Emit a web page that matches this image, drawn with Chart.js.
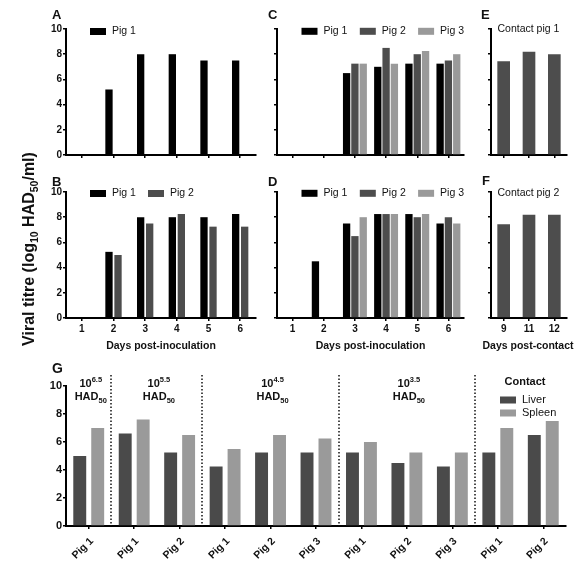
<!DOCTYPE html>
<html>
<head>
<meta charset="utf-8">
<script src="https://cdn.jsdelivr.net/npm/chart.js@4.4.1/dist/chart.umd.min.js"></script>
<style>
body { margin: 0; background: #fff; }
#fig { position: relative; width: 581px; height: 565px; overflow: hidden; font-family: "Liberation Sans", Arial, sans-serif; color: #111; }
#fig canvas { position: absolute; }
.letter { position: absolute; font-weight: bold; font-size: 13px; line-height: 1; }
#ytitle { position: absolute; left: 30px; top: 249px; transform: translate(-50%, -50%) rotate(-90deg); white-space: nowrap; font-weight: bold; font-size: 16px; line-height: 1; }
#ytitle sub { font-size: 10.5px; }
</style>
</head>
<body>
<div id="fig">
  <canvas id="cA"></canvas>
  <canvas id="cB"></canvas>
  <canvas id="cC"></canvas>
  <canvas id="cD"></canvas>
  <canvas id="cE"></canvas>
  <canvas id="cF"></canvas>
  <canvas id="cG"></canvas>
  <div class="letter" style="left:52px;top:8px">A</div>
  <div class="letter" style="left:268px;top:8px">C</div>
  <div class="letter" style="left:481px;top:8px">E</div>
  <div class="letter" style="left:52px;top:175px">B</div>
  <div class="letter" style="left:268px;top:175px">D</div>
  <div class="letter" style="left:482px;top:174px">F</div>
  <div class="letter" style="left:52px;top:361px;font-size:14px">G</div>
  <div id="ytitle">Viral titre (log<sub>10</sub> HAD<sub>50</sub>/ml)</div>
</div>
<script>
// categories
var days = ["1", "2", "3", "4", "5", "6"];
var contactDays = ["9", "11", "12"];
var tissuePigs = ["Pig 1", "Pig 1", "Pig 2", "Pig 1", "Pig 2", "Pig 3", "Pig 1", "Pig 2", "Pig 3", "Pig 1", "Pig 2"];
var yTicks = [0, 2, 4, 6, 8, 10];
// titres, log10 HAD50/ml
var pigA1 = [null, 5.2, 8, 8, 7.5, 7.5];
var pigB1 = [null, 5.25, 8, 8, 8, 8.25];
var pigB2 = [null, 5, 7.5, 8.25, 7.25, 7.25];
var pigC1 = [null, null, 6.5, 7, 7.25, 7.25];
var pigC2 = [null, null, 7.25, 8.5, 8, 7.5];
var pigC3 = [null, null, 7.25, 7.25, 8.25, 8];
var pigD1 = [null, 4.5, 7.5, 8.25, 8.25, 7.5];
var pigD2 = [null, null, 6.5, 8.25, 8, 8];
var pigD3 = [null, null, 8, 8.25, 8.25, 7.5];
var contactPig1 = [7.45, 8.2, 8];
var contactPig2 = [7.45, 8.2, 8.2];
// tissues (panel G)
var liver = [5, 6.6, 5.25, 4.25, 5.25, 5.25, 5.25, 4.5, 4.25, 5.25, 6.5];
var spleen = [7, 7.6, 6.5, 5.5, 6.5, 6.25, 6, 5.25, 5.25, 7, 7.5];
var groupSplits = [1, 3, 6, 9];
var doses = ["6.5", "5.5", "4.5", "3.5"];

var FONT = '"Liberation Sans", Arial, sans-serif';
var black = "#000000", dark = "#4d4d4d", light = "#9a9a9a";

Chart.defaults.font.family = FONT;
Chart.defaults.color = "#111";
Chart.defaults.animation = false;

// legend drawn inside the plot area (+ optional wide axis title)
var boxLegend = {
	id: "boxLegend",
	afterDraw: function (chart, args, o) {
		var ctx = chart.ctx, a = chart.chartArea;
		ctx.save();
		ctx.textBaseline = "middle";
		ctx.fillStyle = "#111";
		if (o.xTitle) {
			ctx.font = "bold 10.5px " + FONT;
			ctx.textAlign = "center";
			ctx.fillText(o.xTitle, (a.left + a.right) / 2 - 1, a.bottom + 28);
		}
		if (o.dx === undefined) { ctx.restore(); return; }
		var x = a.left + o.dx, y = a.top + o.dy;
		if (o.title) {
			ctx.font = "bold 11px " + FONT;
			ctx.textAlign = "center";
			ctx.fillText(o.title, x + 25, y - 18);
		}
		ctx.textAlign = "left";
		ctx.font = (o.size || 10.5) + "px " + FONT;
		chart.data.datasets.forEach(function (ds) {
			if (!ds.label) return;
			if (o.swatch !== false) {
				ctx.fillStyle = ds.backgroundColor;
				ctx.fillRect(x, y - 3.5, 16, 7);
			}
			ctx.fillStyle = "#111";
			ctx.fillText(ds.label, x + (o.swatch === false ? 0 : 22), y);
			if (o.vertical) y += o.step; else x += o.step;
		});
		ctx.restore();
	},
};

function supSub(ctx, big, small, cx, y, shift) {
	ctx.font = "bold 11px " + FONT;
	var w1 = ctx.measureText(big).width;
	ctx.font = "bold 7.5px " + FONT;
	var w2 = ctx.measureText(small).width;
	var x0 = cx - (w1 + w2) / 2;
	ctx.fillStyle = "#111";
	ctx.textAlign = "left";
	ctx.textBaseline = "alphabetic";
	ctx.font = "bold 11px " + FONT;
	ctx.fillText(big, x0, y);
	ctx.font = "bold 7.5px " + FONT;
	ctx.fillText(small, x0 + w1, y + shift);
}

// dotted separators + dose labels for panel G
var groupMarks = {
	id: "groupMarks",
	afterDraw: function (chart, args, o) {
		if (!o.splits) return;
		var ctx = chart.ctx, a = chart.chartArea, x = chart.scales.x;
		ctx.save();
		ctx.strokeStyle = "#111";
		ctx.lineWidth = 1.5;
		ctx.setLineDash([1.5, 2]);
		o.splits.forEach(function (i) {
			var px = Math.round((x.getPixelForTick(i - 1) + x.getPixelForTick(i)) / 2);
			ctx.beginPath();
			ctx.moveTo(px, a.top - 11);
			ctx.lineTo(px, a.bottom);
			ctx.stroke();
		});
		ctx.setLineDash([]);
		var bounds = [0].concat(o.splits);
		o.doses.forEach(function (d, k) {
			var cx = (x.getPixelForTick(bounds[k]) + x.getPixelForTick(bounds[k + 1] - 1)) / 2 + 2;
			supSub(ctx, "10", d, cx, a.top + 1, -5);
			supSub(ctx, "HAD", "50", cx, a.top + 14, 3);
		});
		ctx.restore();
	},
};

function yScale(showLabels, size) {
	return {
		min: 0,
		max: 10,
		afterBuildTicks: function (s) { s.ticks = yTicks.map(function (v) { return { value: v }; }); },
		afterFit: function (s) { s.width = 30; },
		border: { color: "#000", width: 2 },
		grid: { drawOnChartArea: false, tickLength: 3, color: "#000", lineWidth: 1.5 },
		ticks: { display: showLabels, padding: 1, font: { size: size || 10, weight: "bold" } },
	};
}

function xScale(showLabels, h, title, rot, size) {
	return {
		afterFit: function (s) { s.height = h; },
		border: { color: "#000", width: 2 },
		grid: { drawOnChartArea: false, offset: false, tickLength: 3, color: "#000", lineWidth: 1.5 },
		ticks: {
			display: showLabels, padding: rot ? 6 : 2, labelOffset: rot ? 3 : 0, autoSkip: false,
			minRotation: rot || 0, maxRotation: rot || 0, font: { size: size || 10, weight: "bold" },
		},
		title: { display: !!title, text: title || "", padding: { top: 4, bottom: 1 }, font: { size: 10.5, weight: "bold" } },
	};
}

// area = plot area [left, top, right, bottom] on the page
function panel(id, area, padT, padR, xh, labels, datasets, pct, scales, plug) {
	var cv = document.getElementById(id);
	cv.width = area[2] - area[0] + 30 + padR;
	cv.height = area[3] - area[1] + padT + xh;
	cv.style.left = area[0] - 30 + "px";
	cv.style.top = area[1] - padT + "px";
	datasets.forEach(function (ds) {
		ds.categoryPercentage = pct[0];
		ds.barPercentage = pct[1];
	});
	var plugins = { legend: { display: false }, tooltip: { enabled: false } };
	for (var k in plug) plugins[k] = plug[k];
	return new Chart(cv, {
		type: "bar",
		data: { labels: labels, datasets: datasets },
		options: {
			responsive: false,
			layout: { padding: { top: padT, right: padR, left: 0, bottom: 0 } },
			scales: scales,
			plugins: plugins,
		},
		plugins: [boxLegend, groupMarks],
	});
}

var chartA = panel("cA", [66, 29, 256, 155], 12, 6, 15, days, [
	{ label: "Pig 1", data: pigA1, backgroundColor: black },
	{ label: "", data: [], backgroundColor: dark },
], [0.57, 0.81], { x: xScale(false, 15), y: yScale(true) },
	{ boxLegend: { dx: 24, dy: 2.5, step: 58 } });

var chartB = panel("cB", [66, 192, 256, 318], 12, 6, 35, days, [
	{ label: "Pig 1", data: pigB1, backgroundColor: black },
	{ label: "Pig 2", data: pigB2, backgroundColor: dark },
], [0.57, 0.81], { x: xScale(true, 35, "Days post-inoculation"), y: yScale(true) },
	{ boxLegend: { dx: 24, dy: 1.5, step: 58 } });

var chartC = panel("cC", [277, 29, 464, 155], 12, 6, 15, days, [
	{ label: "Pig 1", data: pigC1, backgroundColor: black },
	{ label: "Pig 2", data: pigC2, backgroundColor: dark },
	{ label: "Pig 3", data: pigC3, backgroundColor: light },
], [0.8, 0.88], { x: xScale(false, 15), y: yScale(false) },
	{ boxLegend: { dx: 24.5, dy: 2.3, step: 58.3 } });

var chartD = panel("cD", [277, 192, 464, 318], 12, 6, 35, days, [
	{ label: "Pig 1", data: pigD1, backgroundColor: black },
	{ label: "Pig 2", data: pigD2, backgroundColor: dark },
	{ label: "Pig 3", data: pigD3, backgroundColor: light },
], [0.8, 0.88], { x: xScale(true, 35, "Days post-inoculation"), y: yScale(false) },
	{ boxLegend: { dx: 24.5, dy: 1.3, step: 58.3 } });

var chartE = panel("cE", [491, 29, 567, 155], 12, 12, 15, contactDays, [
	{ label: "Contact pig 1", data: contactPig1, backgroundColor: dark },
], [1, 0.5], { x: xScale(false, 15), y: yScale(false) },
	{ boxLegend: { dx: 6.5, dy: 0.5, step: 0, swatch: false } });

// axis title wider than the axis: drawn by the plugin so it is not squeezed
var chartF = panel("cF", [491, 192, 567, 318], 12, 12, 35, contactDays, [
	{ label: "Contact pig 2", data: contactPig2, backgroundColor: dark },
], [1, 0.5], { x: xScale(true, 35), y: yScale(false) },
	{ boxLegend: { dx: 6.5, dy: 1.3, step: 0, swatch: false, xTitle: "Days post-contact" } });

var chartG = panel("cG", [66, 386, 566, 526], 26, 8, 39, tissuePigs, [
	{ label: "Liver", data: liver, backgroundColor: "#4a4a4a" },
	{ label: "Spleen", data: spleen, backgroundColor: light },
], [0.79, 0.72], { x: xScale(true, 39, "", 45, 10.5), y: yScale(true, 11) },
	{
		boxLegend: { dx: 434, dy: 14, step: 13, vertical: true, title: "Contact", size: 11 },
		groupMarks: { splits: groupSplits, doses: doses },
	});
</script>
</body>
</html>
